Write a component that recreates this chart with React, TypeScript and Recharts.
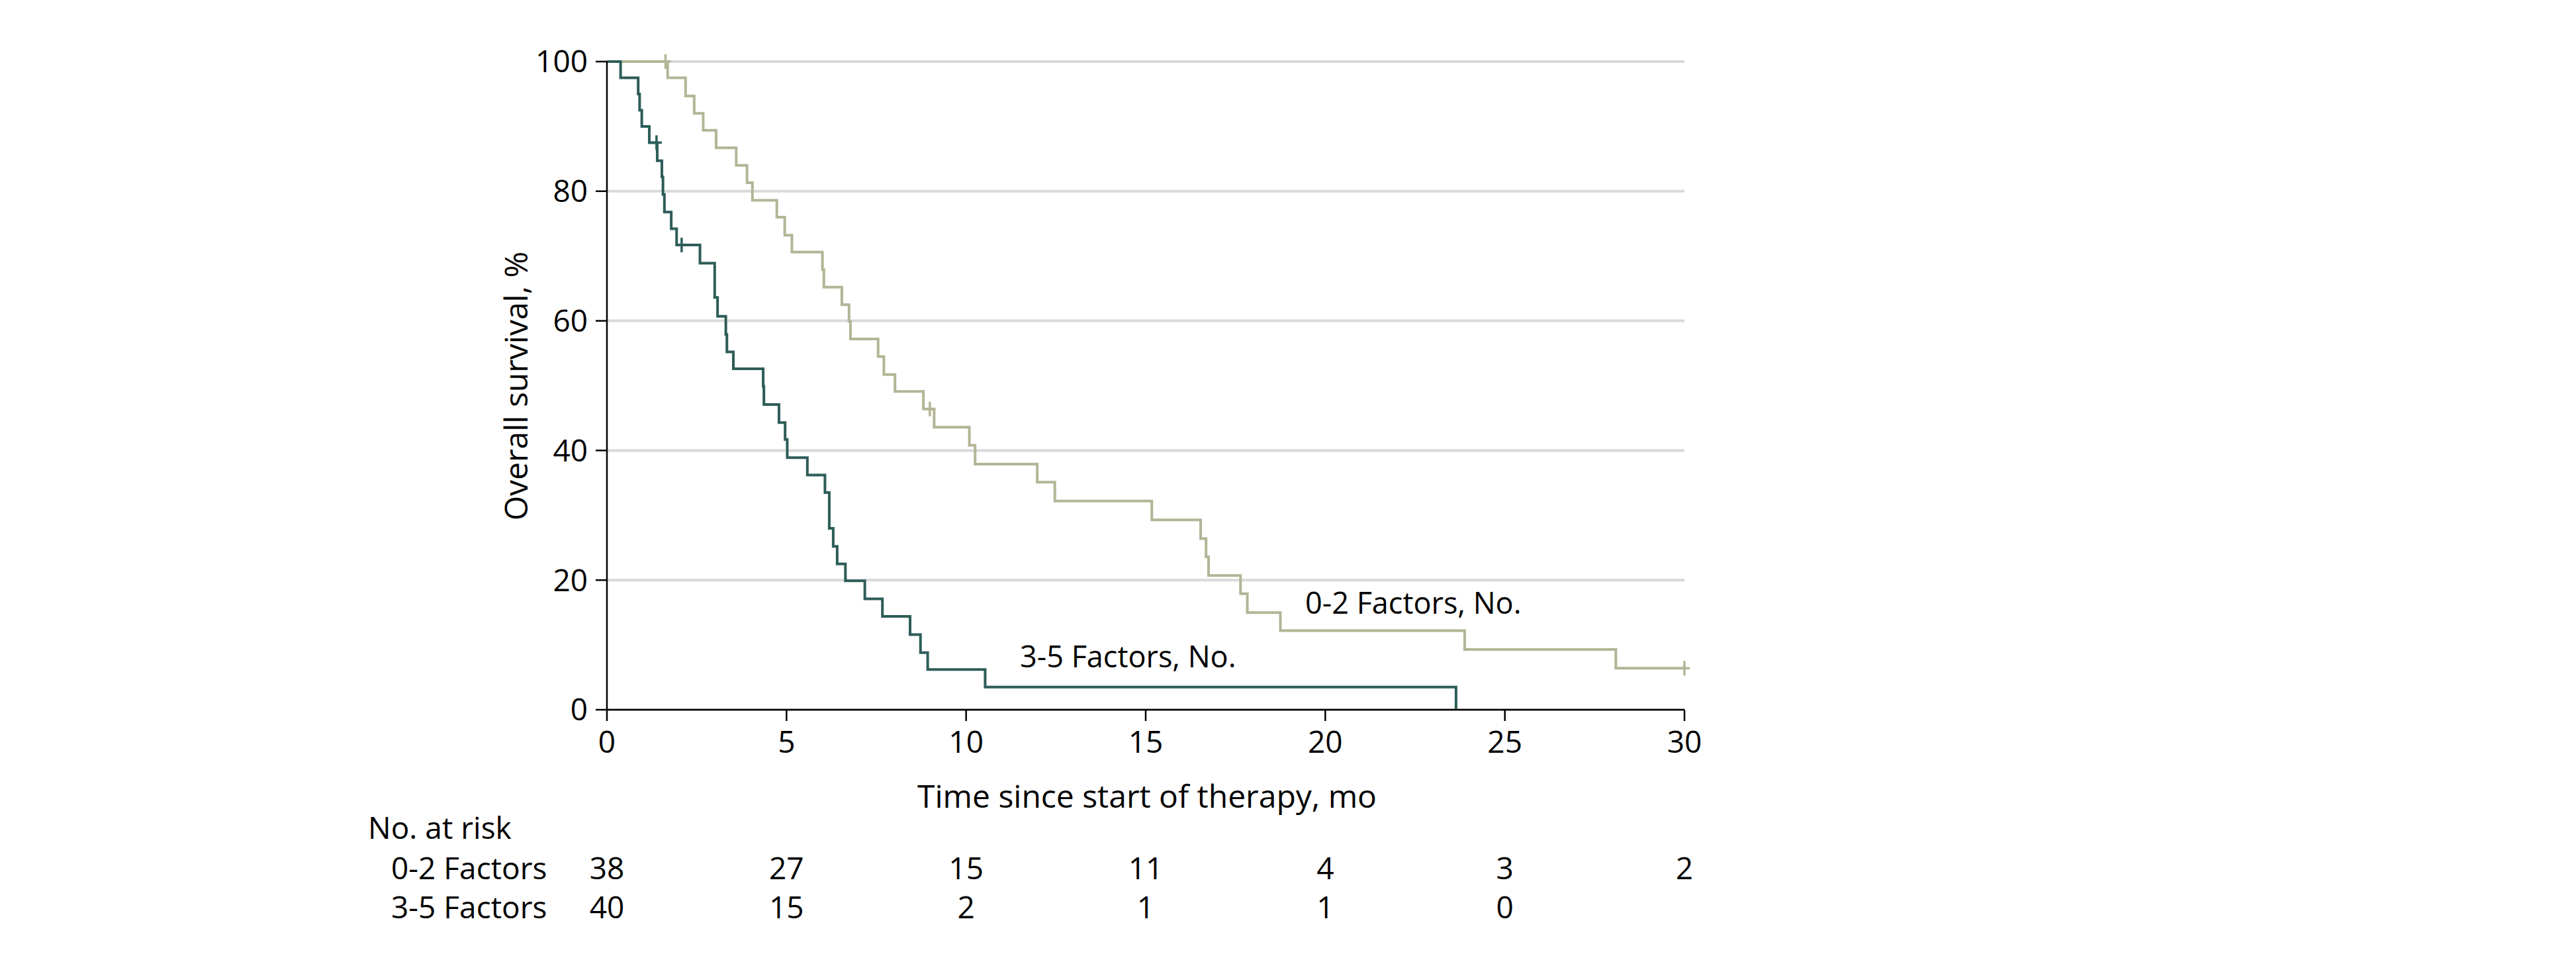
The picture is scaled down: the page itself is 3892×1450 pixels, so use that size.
import React from 'react';
import { ComposedChart, Line, Scatter, XAxis, YAxis, CartesianGrid } from 'recharts';

// 3-5 Factors (dark) Kaplan-Meier steps
const darkTimes = [0, 0.38, 0.87, 0.91, 0.97, 1.18, 1.40, 1.53, 1.56, 1.60, 1.79, 1.94, 2.59, 3.00, 3.08, 3.31, 3.34, 3.52, 4.35, 4.37, 4.79, 4.96, 5.02, 5.58, 6.07, 6.19, 6.30, 6.41, 6.64, 7.18, 7.67, 8.44, 8.73, 8.93, 10.53, 23.64];
const darkSurv = [100, 97.5, 95, 92.5, 90, 87.5, 84.7, 82.2, 79.5, 76.8, 74.2, 71.7, 68.9, 63.6, 60.7, 57.9, 55.2, 52.6, 49.9, 47.1, 44.3, 41.7, 38.9, 36.2, 33.5, 28.0, 25.2, 22.5, 19.9, 17.1, 14.4, 11.6, 8.8, 6.2, 3.5, 0];
const darkCensorTimes = [1.38, 2.08];
const darkCensorSurv = [87.5, 71.7];

// 0-2 Factors (light)
const lightTimes = [0, 1.69, 2.19, 2.43, 2.68, 3.04, 3.60, 3.90, 4.05, 4.73, 4.95, 5.15, 6.00, 6.04, 6.54, 6.74, 6.78, 7.55, 7.71, 8.02, 8.81, 9.11, 10.09, 10.25, 11.98, 12.47, 15.17, 16.53, 16.68, 16.75, 17.64, 17.83, 18.75, 23.88, 28.09, 30];
const lightSurv = [100, 97.5, 94.7, 92.0, 89.4, 86.7, 84.0, 81.3, 78.6, 76.0, 73.2, 70.6, 67.9, 65.2, 62.5, 59.9, 57.2, 54.5, 51.7, 49.1, 46.4, 43.6, 40.8, 37.9, 35.1, 32.2, 29.3, 26.4, 23.6, 20.7, 17.9, 15.0, 12.2, 9.3, 6.4, 6.4];
const lightCensorTimes = [1.63, 8.99, 30];
const lightCensorSurv = [100, 46.4, 6.4];

const xTicks = [0, 5, 10, 15, 20, 25, 30];
const yTicks = [0, 20, 40, 60, 80, 100];
const riskLow = ['38', '27', '15', '11', '4', '3', '2'];
const riskHigh = ['40', '15', '2', '1', '1', '0', ''];

const DARK = '#2d5d59';
const LIGHT = '#b3b596';
const FONT = "'Liberation Sans Narrow', 'Open Sans', sans-serif";

const darkData = darkTimes.map((t, i) => ({ t, s: darkSurv[i] }));
const lightData = lightTimes.map((t, i) => ({ t, s: lightSurv[i] }));
const darkCensor = darkCensorTimes.map((t, i) => ({ t, s: darkCensorSurv[i] }));
const lightCensor = lightCensorTimes.map((t, i) => ({ t, s: lightCensorSurv[i] }));

const makeCensor = (color: string) => (props: any) => {
  const { cx, cy } = props;
  return (
    <g>
      <line x1={cx} x2={cx} y1={cy - 11} y2={cy + 11} stroke={color} strokeWidth={3.5} />
      <line x1={cx - 8} x2={cx + 8} y1={cy} y2={cy} stroke={color} strokeWidth={3.5} />
    </g>
  );
};

const XTick = (props: any) => {
  const { x, y, payload } = props;
  const i = xTicks.indexOf(payload.value);
  return (
    <g>
      <text x={x} y={y + 48} textAnchor="middle" fontSize={46} fontFamily={FONT} fill="#000">{payload.value}</text>
      <text x={x} y={y + 239} textAnchor="middle" fontSize={46} fontFamily={FONT} fill="#000">{riskLow[i]}</text>
      <text x={x} y={y + 298} textAnchor="middle" fontSize={46} fontFamily={FONT} fill="#000">{riskHigh[i]}</text>
    </g>
  );
};

export default function App() {
  return (
    <div style={{ position: 'relative', width: 3876, height: 1434, background: '#fff' }}>
      <ComposedChart width={3876} height={1434} margin={{ top: 85, right: 1339, bottom: 310, left: 0 }}>
        <CartesianGrid horizontal vertical={false} stroke="#d9d9d9" strokeWidth={4} />
        <XAxis
          type="number"
          dataKey="t"
          domain={[0, 30]}
          ticks={xTicks}
          height={60}
          tickSize={17}
          tickMargin={0}
          axisLine={{ stroke: '#000', strokeWidth: 2.5 }}
          tickLine={{ stroke: '#000', strokeWidth: 2.5 }}
          tick={<XTick />}
          interval={0}
        />
        <YAxis
          type="number"
          domain={[0, 100]}
          ticks={yTicks}
          width={909}
          tickSize={17}
          tickMargin={12}
          axisLine={{ stroke: '#000', strokeWidth: 2.5 }}
          tickLine={{ stroke: '#000', strokeWidth: 2.5 }}
          tick={{ fill: '#000', fontSize: 46, fontFamily: FONT }}
          interval={0}
        />
        <Line data={lightData} dataKey="s" type="stepAfter" stroke={LIGHT} strokeWidth={4} dot={false} isAnimationActive={false} />
        <Scatter data={lightCensor} dataKey="s" shape={makeCensor(LIGHT)} isAnimationActive={false} />
        <Line data={darkData} dataKey="s" type="stepAfter" stroke={DARK} strokeWidth={4} dot={false} isAnimationActive={false} />
        <Scatter data={darkCensor} dataKey="s" shape={makeCensor(DARK)} isAnimationActive={false} />
      </ComposedChart>
      <svg width={3876} height={1434} style={{ position: 'absolute', left: 0, top: 0, pointerEvents: 'none' }}>
        <g fontFamily={FONT} fill="#000">
          <text x={770} y={575} transform="rotate(-90 770 575)" textAnchor="middle" dominantBaseline="central" fontSize={48}>Overall survival, %</text>
          <text x={1725} y={1212} textAnchor="middle" fontSize={48}>Time since start of therapy, mo</text>
          <text x={548} y={1259} fontSize={46}>No. at risk</text>
          <text x={583} y={1320} fontSize={46}>0-2 Factors</text>
          <text x={583} y={1379} fontSize={46}>3-5 Factors</text>
          <text x={1964} y={919} fontSize={45}>0-2 Factors, No.</text>
          <text x={1533} y={1000} fontSize={45}>3-5 Factors, No.</text>
        </g>
      </svg>
    </div>
  );
}
